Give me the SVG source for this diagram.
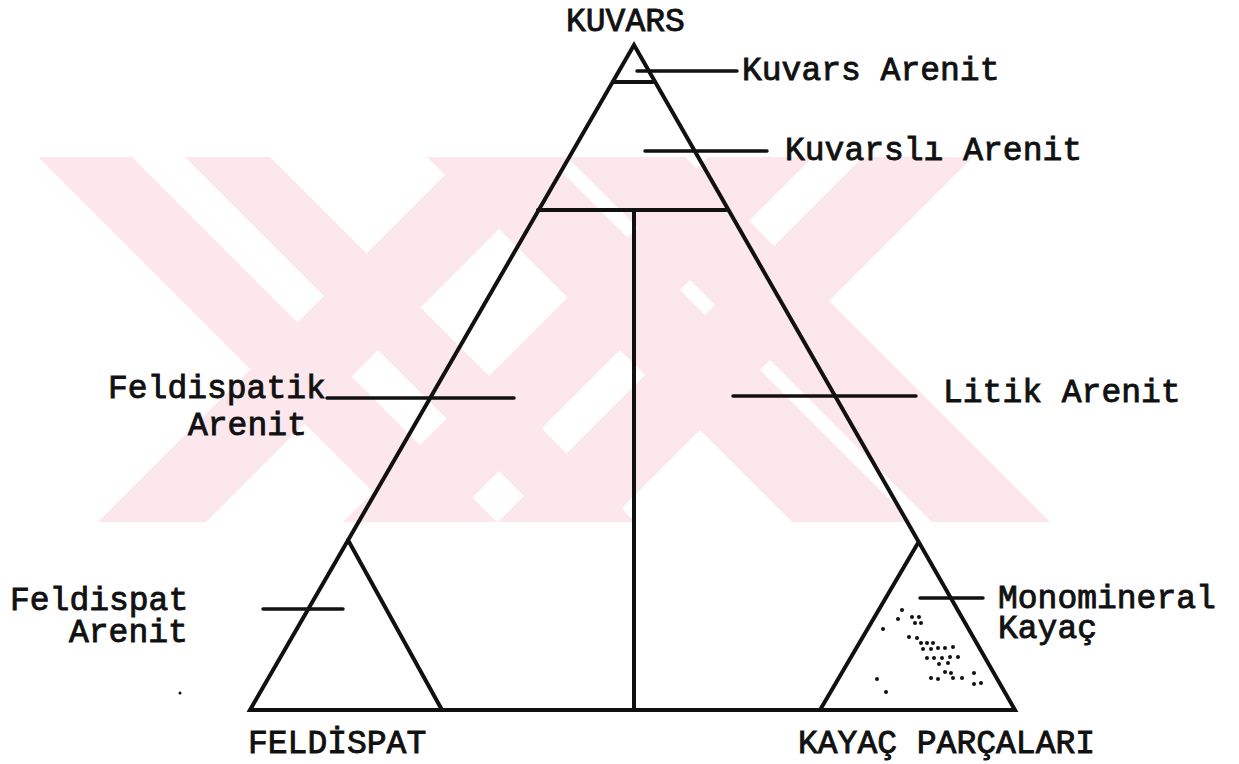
<svg xmlns="http://www.w3.org/2000/svg" width="1239" height="764" viewBox="0 0 1239 764">
<defs>
<style>
.wm{fill:#fce8ec;stroke:none}
.ln{stroke:#111;stroke-width:4;fill:none;stroke-linecap:round;stroke-linejoin:miter}
.ld{stroke:#111;stroke-width:3.5;fill:none;stroke-linecap:round}
.t{font-family:"Liberation Mono","DejaVu Sans Mono",monospace;font-size:33px;fill:#111;stroke:#111;stroke-width:0.9;font-weight:normal}
.dot{fill:#111}
</style>
<clipPath id="wmclip"><rect x="40" y="157" width="1025" height="365"/></clipPath>
</defs>
<rect width="1239" height="764" fill="#fff"/>
<g id="watermark" clip-path="url(#wmclip)">
<polygon class="wm" points="-19,100 75,100 575,600 481,600"/>
<polygon class="wm" points="128,100 213,100 713,600 628,600"/>
<polygon class="wm" points="520,100 628,100 128,600 20,600"/>
<polygon class="wm" points="920,100 1030,100 530,600 420,600"/>
<polygon class="wm" points="765,100 870,100 370,600 265,600"/>
<polygon class="wm" points="510,100 628,100 1128,600 1010,600"/>
<polygon class="wm" points="370,100 490,100 990,600 870,600"/>
</g>
<g id="connectors">
<line class="ld" x1="637" y1="71" x2="737" y2="71"/>
<line class="ld" x1="645" y1="151" x2="767" y2="151"/>
<line class="ld" x1="327" y1="398" x2="514" y2="398"/>
<line class="ld" x1="733" y1="396" x2="916" y2="396"/>
<line class="ld" x1="263" y1="609" x2="343" y2="609"/>
<line class="ld" x1="920" y1="598" x2="983" y2="598"/>
</g>
<g id="main-triangle">
<polygon class="ln" points="634,45 1015,710 250,710"/>
<line class="ln" x1="613" y1="82" x2="653" y2="82"/>
<line class="ln" x1="538" y1="210" x2="726" y2="210"/>
<line class="ln" x1="634" y1="210" x2="634" y2="710"/>
<polyline class="ln" points="348,540 442,710"/>
<polyline class="ln" points="918,543 820,710"/>
</g>
<g id="dots">
<circle class="dot" cx="902" cy="610" r="2"/>
<circle class="dot" cx="898" cy="619" r="2"/>
<circle class="dot" cx="912" cy="617" r="2"/>
<circle class="dot" cx="919" cy="617" r="2"/>
<circle class="dot" cx="915" cy="623" r="2"/>
<circle class="dot" cx="921" cy="623" r="2"/>
<circle class="dot" cx="883" cy="629" r="2"/>
<circle class="dot" cx="909" cy="637" r="2"/>
<circle class="dot" cx="917" cy="638" r="2"/>
<circle class="dot" cx="921" cy="643" r="2"/>
<circle class="dot" cx="927" cy="643" r="2"/>
<circle class="dot" cx="933" cy="643" r="2"/>
<circle class="dot" cx="923" cy="649" r="2"/>
<circle class="dot" cx="931" cy="649" r="2"/>
<circle class="dot" cx="938" cy="648" r="2"/>
<circle class="dot" cx="945" cy="648" r="2"/>
<circle class="dot" cx="953" cy="647" r="2"/>
<circle class="dot" cx="927" cy="658" r="2"/>
<circle class="dot" cx="934" cy="658" r="2"/>
<circle class="dot" cx="942" cy="658" r="2"/>
<circle class="dot" cx="950" cy="657" r="2"/>
<circle class="dot" cx="958" cy="657" r="2"/>
<circle class="dot" cx="939" cy="664" r="2"/>
<circle class="dot" cx="948" cy="663" r="2"/>
<circle class="dot" cx="945" cy="672" r="2"/>
<circle class="dot" cx="951" cy="673" r="2"/>
<circle class="dot" cx="931" cy="678" r="2"/>
<circle class="dot" cx="938" cy="679" r="2"/>
<circle class="dot" cx="953" cy="678" r="2"/>
<circle class="dot" cx="962" cy="678" r="2"/>
<circle class="dot" cx="974" cy="673" r="2"/>
<circle class="dot" cx="974" cy="684" r="2"/>
<circle class="dot" cx="981" cy="683" r="2"/>
<circle class="dot" cx="877" cy="679" r="2"/>
<circle class="dot" cx="886" cy="692" r="2"/>
<circle class="dot" cx="180" cy="693" r="1.5"/>
</g>
<g id="labels">
<text id="kuvars" class="t" x="566" y="31">KUVARS</text>
<text id="kuvars-arenit" class="t" x="742" y="80">Kuvars Arenit</text>
<text id="kuvarsli-arenit" class="t" x="785" y="160">Kuvarslı Arenit</text>
<text id="feldispatik-arenit" class="t"><tspan x="108" y="398">Feldispatik</tspan><tspan x="188" y="435">Arenit</tspan></text>
<text id="litik-arenit" class="t" x="943" y="402">Litik Arenit</text>
<text id="feldispat-arenit" class="t"><tspan x="10" y="610">Feldispat</tspan><tspan x="69" y="642">Arenit</tspan></text>
<text id="monomineral-kayac" class="t"><tspan x="998" y="608">Monomineral</tspan><tspan x="998" y="638">Kayaç</tspan></text>
<text id="feldispat" class="t" x="248" y="753">FELDİSPAT</text>
<text id="kayac-parcalari" class="t" x="798" y="753">KAYAÇ PARÇALARI</text>
</g>
</svg>
